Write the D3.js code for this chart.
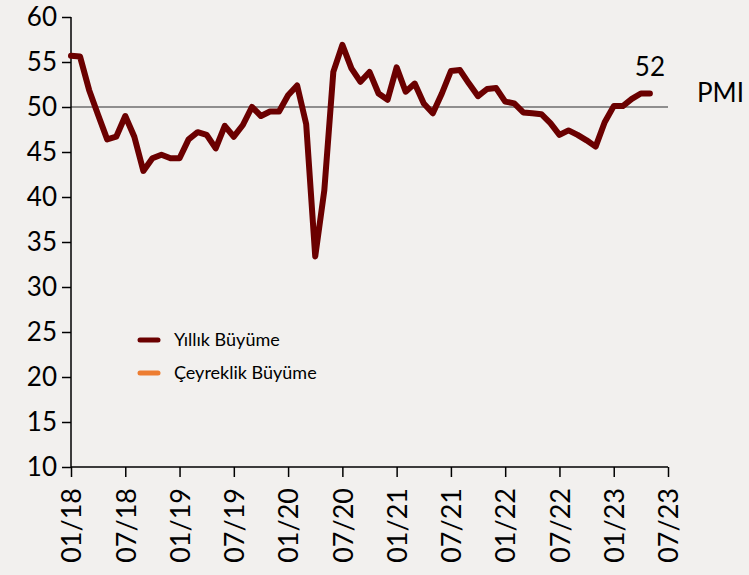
<!DOCTYPE html>
<html>
<head>
<meta charset="utf-8">
<script src="https://cdn.jsdelivr.net/npm/d3@7"></script>
<style>
  body { margin: 0; background: #f2f0ee; }
  svg { display: block; font-family: Lato, "Open Sans", sans-serif; }
</style>
</head>
<body>
<svg id="chart" width="749" height="575"></svg>
<script>
// monthly PMI, 01/18 .. 05/23
var pmi = [
  55.7, 55.6, 51.9, 49.1, 46.4, 46.7, 49.0, 46.7, 42.9, 44.3, 44.7, 44.3,
  44.3, 46.4, 47.2, 46.9, 45.4, 47.9, 46.7, 48.0, 50.0, 49.0, 49.5, 49.5,
  51.3, 52.4, 48.1, 33.4, 40.7, 53.9, 56.9, 54.3, 52.8, 53.9, 51.5, 50.8,
  54.4, 51.7, 52.6, 50.4, 49.3, 51.5, 54.0, 54.1, 52.6, 51.2, 52.0, 52.1,
  50.6, 50.4, 49.4, 49.3, 49.2, 48.2, 46.9, 47.4, 46.9, 46.3, 45.6, 48.3,
  50.1, 50.1, 50.9, 51.5, 51.5
];
var yTicks = [10, 15, 20, 25, 30, 35, 40, 45, 50, 55, 60];
var xTicks = ["01/18", "07/18", "01/19", "07/19", "01/20", "07/20",
              "01/21", "07/21", "01/22", "07/22", "01/23", "07/23"];
var legendNames = ["Yıllık Büyüme", "Çeyreklik Büyüme"];
var legendColors = ["#6b0000", "#ed7d31"];
var threshold = 50;
var lastLabel = "52";

var svg = d3.select("#chart");
var m = {left: 71, right: 668, top: 17, bottom: 467};

// months counted from 01/18
var x = d3.scaleLinear().domain([0, 66]).range([m.left, m.right]);
var y = d3.scaleLinear().domain([10, 60]).range([m.bottom, m.top]);

// reference line at 50
svg.append("line")
    .attr("x1", x(0)).attr("x2", x(66))
    .attr("y1", y(threshold)).attr("y2", y(threshold))
    .attr("stroke", "#6e6e6e")
    .attr("stroke-width", 1.5);

// y axis
var yAxis = svg.append("g")
    .attr("transform", "translate(" + m.left + ",0)")
    .call(d3.axisLeft(y).tickValues(yTicks).tickSize(9).tickPadding(5));
yAxis.select(".domain").attr("d", "M0," + y(60) + "V" + y(10)).attr("stroke-width", 1.5);
yAxis.selectAll(".tick line").attr("stroke-width", 1.5);
yAxis.selectAll("text").attr("font-size", 26).attr("fill", "#000")
    .attr("font-family", "Lato, sans-serif");

// x axis
var xAxis = svg.append("g")
    .attr("transform", "translate(0," + m.bottom + ")")
    .call(d3.axisBottom(x)
      .tickValues(xTicks.map(function(d, i) { return i * 6; }))
      .tickFormat(function(d, i) { return xTicks[i]; })
      .tickSize(10));
xAxis.select(".domain").attr("d", "M" + m.left + ",0H" + m.right).attr("stroke-width", 1.5);
xAxis.selectAll(".tick line").attr("stroke-width", 1.5);
xAxis.selectAll("text")
    .attr("font-size", 27).attr("fill", "#000")
    .attr("font-family", "Lato, sans-serif")
    .attr("transform", "rotate(-90)")
    .attr("text-anchor", "end")
    .attr("x", -21).attr("y", 0).attr("dy", "0.36em");

// the PMI line
var line = d3.line()
    .x(function(d, i) { return x(i); })
    .y(function(d) { return y(d); });

svg.append("path")
    .datum(pmi)
    .attr("fill", "none")
    .attr("stroke", legendColors[0])
    .attr("stroke-width", 6)
    .attr("stroke-linejoin", "round")
    .attr("stroke-linecap", "round")
    .attr("d", line);

// labels
svg.append("text")
    .attr("x", x(pmi.length - 1))
    .attr("y", y(pmi[pmi.length - 1]) - 18)
    .attr("text-anchor", "middle")
    .attr("font-size", 26)
    .text(lastLabel);

svg.append("text")
    .attr("x", 697).attr("y", 102)
    .attr("font-size", 26)
    .text("PMI");

// legend
var legend = svg.selectAll(".legend")
    .data(legendNames)
    .enter().append("g")
      .attr("class", "legend")
      .attr("transform", function(d, i) { return "translate(137," + (340 + i * 33) + ")"; });

legend.append("line")
    .attr("x1", 3).attr("x2", 21)
    .attr("stroke", function(d, i) { return legendColors[i]; })
    .attr("stroke-width", 5)
    .attr("stroke-linecap", "round");

legend.append("text")
    .attr("x", 37).attr("dy", "0.35em")
    .attr("font-size", 18)
    .text(function(d) { return d; });
</script>
</body>
</html>
